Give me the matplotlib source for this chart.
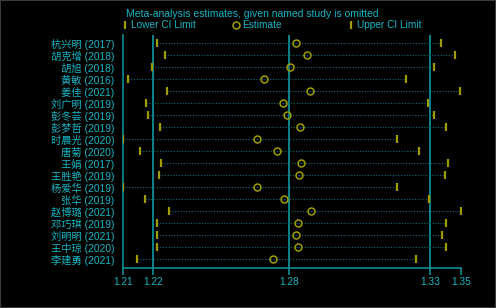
import matplotlib
matplotlib.use('Agg')
import matplotlib.pyplot as plt
from matplotlib.lines import Line2D

plt.rcParams['font.family'] = ['Liberation Sans', 'Noto Sans CJK SC', 'DejaVu Sans']

# studies omitted, top to bottom
studies = ['杭兴明 (2017)', '胡克增 (2018)', '胡旭 (2018)', '黄敏 (2016)', '姜佳 (2021)',
           '刘广明 (2019)', '彭冬芸 (2019)', '彭梦哲 (2019)', '时晨光 (2020)', '唐菊 (2020)',
           '王娟 (2017)', '王胜艳 (2019)', '杨爱华 (2019)', '张华 (2019)', '赵博璐 (2021)',
           '邓巧琪 (2019)', '刘明明 (2021)', '王中琼 (2020)', '李建勇 (2021)']
lower = [1.2237, 1.2269, 1.2216, 1.2120, 1.2277, 1.2190, 1.2198, 1.2247, 1.2100, 1.2169,
         1.2251, 1.2243, 1.2100, 1.2189, 1.2283, 1.2235, 1.2235, 1.2235, 1.2156]
estimate = [1.2796, 1.2839, 1.2771, 1.2667, 1.2851, 1.2744, 1.2760, 1.2811, 1.2639, 1.2720,
            1.2816, 1.2807, 1.2639, 1.2747, 1.2858, 1.2804, 1.2796, 1.2804, 1.2703]
upper = [1.3381, 1.3437, 1.3354, 1.3241, 1.3456, 1.3327, 1.3351, 1.3402, 1.3202, 1.3293,
         1.3410, 1.3397, 1.3202, 1.3332, 1.3460, 1.3402, 1.3384, 1.3402, 1.3280]

# overall combined estimate and CI
overall = [1.2221, 1.2768, 1.3338]

cyan = '#19b6c4'
teal = '#0f8d96'
dots = '#0c6870'
olive = '#a09c00'

fig = plt.figure(figsize=(4.96, 3.08), dpi=100, facecolor='black')
ax = fig.add_axes([123.3 / 496, 1 - 267.7 / 308, 337.4 / 496, 232.7 / 308])
ax.set_facecolor('black')

ypos = list(range(len(studies)))
xmin = min(lower)
xmax = max(upper)

for v in overall:
    ax.axvline(v, color=teal, lw=1.3, zorder=1)

for y, lo, est, hi in zip(ypos, lower, estimate, upper):
    ax.plot([lo, hi], [y, y], color=dots, lw=0.8, ls=(0, (1, 1.5)), zorder=2)
ax.plot(lower, ypos, ls='none', marker='|', ms=6, mew=1.6, color=olive, zorder=3)
ax.plot(upper, ypos, ls='none', marker='|', ms=6, mew=1.6, color=olive, zorder=3)
ax.plot(estimate, ypos, ls='none', marker='o', ms=5, mfc='none', mec=olive, mew=1.1, zorder=3)

ax.set_xlim(xmin, xmax)
ax.set_ylim(len(studies) - 0.3, -0.7)
ax.set_yticks(ypos)
ax.set_yticklabels(studies)
xt = [xmin, overall[0], overall[1], overall[2], xmax]
ax.set_xticks(xt)
ax.set_xticklabels(['%.2f' % v for v in xt])
ax.tick_params(axis='x', colors=teal, labelcolor=cyan, labelsize=7.3, length=5, width=1.2, pad=1.5)
ax.tick_params(axis='y', length=0, labelcolor=cyan, labelsize=7.4, pad=6.5)
for s in ['top', 'right']:
    ax.spines[s].set_visible(False)
for s in ['left', 'bottom']:
    ax.spines[s].set_color(teal)
    ax.spines[s].set_linewidth(1.2)

fig.text(126 / 496, 1 - 14 / 308, 'Meta-analysis estimates, given named study is omitted',
         color=cyan, fontsize=7.45, va='center', ha='left')

# legend: one entry per legend so each sits where it does in the original
bar = dict(ls='none', marker='|', ms=6, mew=1.6, color=olive)
ring = dict(ls='none', marker='o', ms=5, mfc='none', mec=olive, mew=1.1)
entries = [(Line2D([], [], **bar), 'Lower CI Limit', 122),
           (Line2D([], [], **ring), 'Estimate', 233),
           (Line2D([], [], **bar), 'Upper CI Limit', 348)]
for h, lab, px in entries:
    fig.legend([h], [lab], loc='center left', bbox_to_anchor=(px / 496, 1 - 25.5 / 308),
               frameon=False, labelcolor=cyan, fontsize=7.3, handlelength=0.6,
               handletextpad=0.3, borderpad=0, borderaxespad=0)

fig.patches.append(plt.Rectangle((0, 0), 1, 1, transform=fig.transFigure, fill=False,
                                 edgecolor='#3a3a3a', lw=1.5))

fig.savefig('out.png', dpi=100, facecolor='black')
